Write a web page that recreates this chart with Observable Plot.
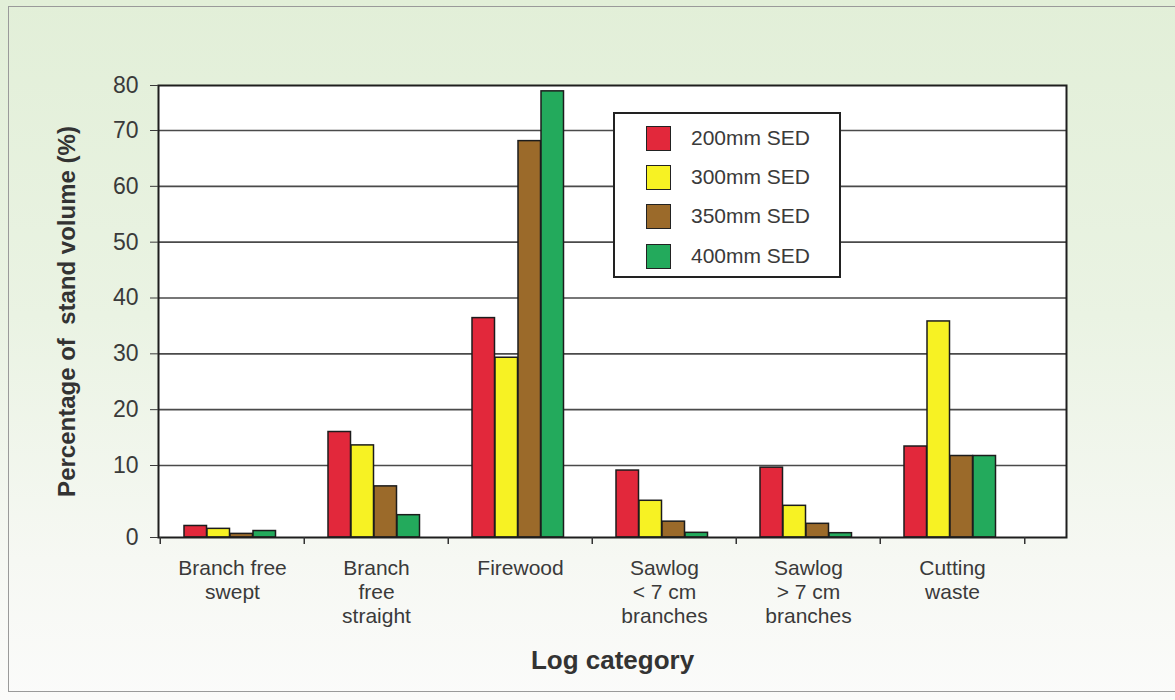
<!DOCTYPE html>
<html>
<head>
<meta charset="utf-8">
<script src="https://cdn.jsdelivr.net/npm/d3@7"></script>
<script src="https://cdn.jsdelivr.net/npm/@observablehq/plot@0.6"></script>
<style>
  html, body { margin: 0; padding: 0; background: #fff; }
  #page {
    position: relative; width: 1175px; height: 700px; overflow: hidden;
    background: linear-gradient(to bottom, #e2efd8 0%, #eaf3e3 45%, #f6f8f3 80%, #fbfbfa 100%);
    font-family: "Liberation Sans", Arial, sans-serif;
  }
  #border {
    position: absolute; left: 8px; top: 6px; width: 1180px; height: 686px;
    border: 1.5px solid #9a9a9a; box-sizing: border-box;
  }
  #chart { position: absolute; left: 0; top: 0; }
  #legend {
    position: absolute; left: 613px; top: 112px; width: 228px; height: 166px;
    background: #fff; border: 2px solid #222; box-sizing: border-box;
  }
  .row { position: absolute; left: 0; height: 26px; width: 100%; }
  .sw { position: absolute; left: 31px; top: 0; width: 25px; height: 25px; border: 1.5px solid #222; box-sizing: border-box; }
  .lt { position: absolute; left: 76px; top: 0px; font-size: 21px; color: #3a3a3a; line-height: 24px; white-space: pre; }
</style>
</head>
<body>
<div id="page">
  <div id="border"></div>
  <div id="chart"></div>
  <div id="legend"></div>
</div>
<script>
// ---- data ----
const categories = ["Branch free swept", "Branch free straight", "Firewood", "Sawlog < 7 cm branches", "Sawlog > 7 cm branches", "Cutting waste"];
const categoryLabels = ["Branch free\nswept", "Branch\nfree\nstraight", "Firewood", "Sawlog\n< 7 cm\nbranches", "Sawlog\n> 7 cm\nbranches", "Cutting\nwaste"];
const seriesNames = ["200mm SED", "300mm SED", "350mm SED", "400mm SED"];
const sed200 = [1.6, 16.0, 36.4, 9.3, 9.7, 13.4];
const sed300 = [1.2, 13.6, 29.3, 5.1, 4.4, 35.8];
const sed350 = [0.5, 7.1, 68.1, 2.2, 1.9, 11.7];
const sed400 = [0.9, 3.1, 78.7, 0.65, 0.6, 11.7];
const yTicks = [0, 10, 20, 30, 40, 50, 60, 70, 80];
const gridTicks = [10, 20, 30, 40, 50, 60, 70];
const yLabel = "Percentage of  stand volume (%)";
const xLabel = "Log category";

const seriesValues = [sed200, sed300, sed350, sed400];
const colors = ["#e2283b", "#f7f223", "#9b6a2a", "#23aa5c"];

// ---- layout ----
const W = 1175, H = 700;
const pLeft = 158, pRight = 1066, pTop = 85, pBottom = 537, bandRight = 1025;
const step = (bandRight - pLeft) / categories.length;
const groupOffset = 24, barW = 23;

const rows = seriesValues.map(vals => categories.map((c, i) => ({category: c, value: vals[i]})));

const barMarks = rows.map((data, s) => Plot.barY(data, {
  x: "category", y: "value",
  fill: colors[s], stroke: "#1c1c1c", strokeWidth: 1.5,
  insetLeft: groupOffset + s * barW,
  insetRight: step - groupOffset - (s + 1) * barW
}));

const chart = Plot.plot({
  width: W, height: H,
  marginLeft: pLeft, marginRight: W - pRight, marginTop: pTop, marginBottom: H - pBottom,
  style: {background: "transparent", fontFamily: "Liberation Sans, Arial, sans-serif", overflow: "visible"},
  x: {type: "band", domain: categories, range: [pLeft, bandRight], padding: 0, axis: null},
  y: {type: "linear", domain: [0, 10, 70, 80], range: [537, 465, 130, 85], axis: null},
  marks: [
    Plot.frame({fill: "white", stroke: null}),
    Plot.ruleY(gridTicks, {stroke: "#4a4a4a", strokeWidth: 1.7}),
    ...barMarks,
    Plot.frame({stroke: "#1e1e1e", strokeWidth: 2}),
    Plot.axisY({ticks: yTicks, tickSize: 8, tickPadding: 12, fontSize: 23, color: "#3a3a3a", label: null, tickFormat: d => String(d)}),
    Plot.ruleX(categories, {x: d => d, y1: 0, y2: 0, insetBottom: -7, dx: -step / 2, stroke: "#333", strokeWidth: 1.5}),
    Plot.ruleX([categories[categories.length - 1]], {x: d => d, y1: 0, y2: 0, insetBottom: -7, dx: step / 2, stroke: "#333", strokeWidth: 1.5}),
    Plot.text(categories, {x: d => d, text: (d, i) => categoryLabels[i], frameAnchor: "bottom", lineAnchor: "top", dy: 21, lineHeight: 1.13, fontSize: 21, fill: "#3a3a3a"}),
    Plot.text([xLabel], {frameAnchor: "bottom", dy: 123, fontSize: 26, fontWeight: "bold", fill: "#333", lineAnchor: "middle"}),
    Plot.text([yLabel], {frameAnchor: "left", dx: -91, rotate: -90, fontSize: 24, fontWeight: "bold", fill: "#333", textAnchor: "middle"})
  ]
});
document.getElementById("chart").appendChild(chart);

// ---- legend ----
const legend = document.getElementById("legend");
const rowTops = [12, 51, 90, 130];
seriesNames.forEach((name, i) => {
  const r = document.createElement("div");
  r.className = "row";
  r.style.top = rowTops[i] + "px";
  r.innerHTML = `<div class="sw" style="background:${colors[i]}"></div><div class="lt">${name}</div>`;
  legend.appendChild(r);
});
</script>
</body>
</html>
